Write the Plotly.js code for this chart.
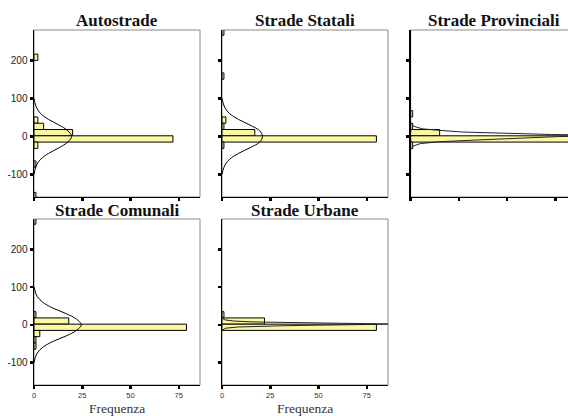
<!DOCTYPE html>
<html><head><meta charset="utf-8">
<script src="https://cdn.plot.ly/plotly-3.0.1.min.js"></script>
<style>html,body{margin:0;padding:0;background:#fff}#chart{width:568px;height:416px}</style>
</head><body><div id="chart"></div>
<script>
// ---- data ----
const panelTitles = ['Autostrade', 'Strade Statali', 'Strade Provinciali', 'Strade Comunali', 'Strade Urbane'];
const xAxisTitle = 'Frequenza';
const binWidth = 16.6;

// histogram bins (bin centre) and frequencies
const autoBins   = [209.1, 43.1, 26.5, 9.9, -6.7, -23.3, -73.1, -156.1];
const autoCounts = [2, 2, 5, 20, 72, 2, 1, 1];

const stataliBins   = [275.5, 159.3, 43.1, 26.5, 9.9, -6.7, -23.3];
const stataliCounts = [1, 1, 2, 1, 17, 80, 1];

const provBins   = [59.7, 26.5, 9.9, -6.7, -23.3];
const provCounts = [1, 1, 15, 92, 1];

const comunaliBins   = [275.5, 26.5, 9.9, -6.7, -23.3, -39.9, -56.5];
const comunaliCounts = [1, 1, 18, 79, 3, 1, 1];

const urbaneBins   = [26.5, 9.9, -6.7];
const urbaneCounts = [1, 22, 80];

// normal curves, points (value, frequency)
const autoCurveY = [-100, -90, -75, -60, -45, -30, -15, 0, 15, 30, 45, 60, 75, 90, 100];
const autoCurveX = [0.1, 0.4, 1.4, 3.5, 7.5, 13, 17.5, 19.5, 17.5, 13, 7.5, 3.5, 1.4, 0.4, 0.1];

const stataliCurveY = [-100, -90, -75, -60, -45, -30, -15, 0, 15, 30, 45, 60, 75, 90, 100];
const stataliCurveX = [0.1, 0.5, 1.6, 4, 8.5, 14.5, 19.5, 21, 19.5, 14.5, 8.5, 4, 1.6, 0.5, 0.1];

const provCurveY = [-35, -25, -19, -14, -10, -4.5, -0.5, 0.5, 2.5, 4, 5, 8, 11.5, 16, 20, 27, 36];
const provCurveX = [0.2, 1.5, 5, 15, 32, 54, 76, 85, 110, 90, 73, 49, 27, 15, 6, 1.5, 0.2];

const comunaliCurveY = [-100, -90, -75, -60, -45, -30, -15, 0, 15, 30, 45, 60, 75, 90, 100];
const comunaliCurveX = [0.1, 0.5, 1.7, 4.5, 9.5, 16.5, 22, 24.5, 22, 16.5, 9.5, 4.5, 1.7, 0.5, 0.1];

const urbaneCurveY = [-14, -9, -6, -4, -2.5, -1, 0.5, 1.9, 3, 4.5, 6, 7.5, 10, 13, 17];
const urbaneCurveX = [0.2, 2, 8, 18, 32, 50, 72, 92, 74, 55, 30, 16, 6, 1.5, 0.2];

const yTickVals = [-100, 0, 100, 200];
const yTickText = ['-100', '0', '100', '200'];
const xTickVals = [0, 25, 50, 75];
const xTickText = ['0', '25', '50', '75'];

// ---- drawing ----
const W = 568, H = 416;
const panels = [
  {bins: autoBins, counts: autoCounts, cy: autoCurveY, cx: autoCurveX, px: [34, 200], py: [30, 197], xmax: 86, spline: true, ylab: true, xlab: false, right: 200},
  {bins: stataliBins, counts: stataliCounts, cy: stataliCurveY, cx: stataliCurveX, px: [222, 388], py: [30, 197], xmax: 86, spline: true, ylab: false, xlab: false, right: 388},
  {bins: provBins, counts: provCounts, cy: provCurveY, cx: provCurveX, px: [410.7, 568], py: [30, 197], xmax: 81.5, spline: false, ylab: false, xlab: false, right: 577},
  {bins: comunaliBins, counts: comunaliCounts, cy: comunaliCurveY, cx: comunaliCurveX, px: [34, 200], py: [219, 385], xmax: 86, spline: true, ylab: true, xlab: true, right: 200},
  {bins: urbaneBins, counts: urbaneCounts, cy: urbaneCurveY, cx: urbaneCurveX, px: [222, 388], py: [219, 385], xmax: 86, spline: false, ylab: false, xlab: true, right: 388}
];
const titleCentres = [117, 305, 494, 117, 305];

const data = [];
const layout = {
  width: W, height: H,
  margin: {l: 0, r: 0, t: 0, b: 0},
  paper_bgcolor: '#fff', plot_bgcolor: '#fff',
  showlegend: false,
  shapes: [], annotations: []
};

panels.forEach((p, i) => {
  const n = i + 1;
  const xa = n === 1 ? 'x' : 'x' + n;
  const ya = n === 1 ? 'y' : 'y' + n;
  data.push({
    type: 'bar', orientation: 'h', x: p.counts, y: p.bins, width: binWidth,
    xaxis: xa, yaxis: ya,
    marker: {color: '#FCF7A2', line: {color: '#000', width: 1}},
    hoverinfo: 'x+y'
  });
  data.push({
    type: 'scatter', mode: 'lines', x: p.cx, y: p.cy, xaxis: xa, yaxis: ya,
    line: {color: p.spline ? '#000' : '#222', width: 1, shape: p.spline ? 'spline' : 'linear'},
    hoverinfo: 'skip'
  });
  const xd = [p.px[0] / W, p.px[1] / W];
  const yd = [1 - p.py[1] / H, 1 - p.py[0] / H];
  layout['xaxis' + (n === 1 ? '' : n)] = {
    domain: xd, anchor: ya, range: [0, p.xmax],
    tickmode: 'array', tickvals: xTickVals, ticktext: xTickText,
    ticks: 'outside', ticklen: 3, tickwidth: 2.5, tickcolor: '#000',
    showticklabels: p.xlab,
    tickfont: {family: 'Liberation Sans, Arial, sans-serif', size: 7.5, color: '#333'},
    showline: true, linecolor: '#000', linewidth: 1,
    showgrid: false, zeroline: false, fixedrange: true
  };
  layout['yaxis' + (n === 1 ? '' : n)] = {
    domain: yd, anchor: xa, range: [-160, 281],
    tickmode: 'array', tickvals: yTickVals, ticktext: yTickText,
    ticks: 'outside', ticklen: 3, tickwidth: 2.5, tickcolor: '#000',
    showticklabels: p.ylab,
    tickfont: {family: 'Liberation Sans, Arial, sans-serif', size: 10, color: '#222'},
    showline: true, linecolor: '#000', linewidth: 1.5,
    showgrid: false, zeroline: false, fixedrange: true
  };
  layout.shapes.push({
    type: 'rect', xref: 'paper', yref: 'paper',
    x0: p.px[0] / W, x1: p.right / W, y0: yd[0], y1: yd[1],
    line: {color: '#8a8a8a', width: 1}, fillcolor: 'rgba(0,0,0,0)', layer: 'below'
  });
  const titleY = p.py[0] === 30 ? 20 : 210;
  layout.annotations.push({
    text: '<b>' + panelTitles[i] + '</b>', xref: 'paper', yref: 'paper',
    x: titleCentres[i] / W, y: 1 - titleY / H, xanchor: 'center', yanchor: 'middle',
    showarrow: false,
    font: {family: 'Liberation Serif, Times New Roman, serif', size: 17, color: '#111'}
  });
  if (p.xlab) {
    layout.annotations.push({
      text: xAxisTitle, xref: 'paper', yref: 'paper',
      x: (p.px[0] + p.px[1]) / 2 / W, y: 1 - 408.7 / H, xanchor: 'center', yanchor: 'middle',
      showarrow: false,
      font: {family: 'Liberation Serif, Times New Roman, serif', size: 13.5, color: '#333'}
    });
  }
});

Plotly.newPlot('chart', data, layout, {displayModeBar: false, staticPlot: true});
</script>
</body></html>
